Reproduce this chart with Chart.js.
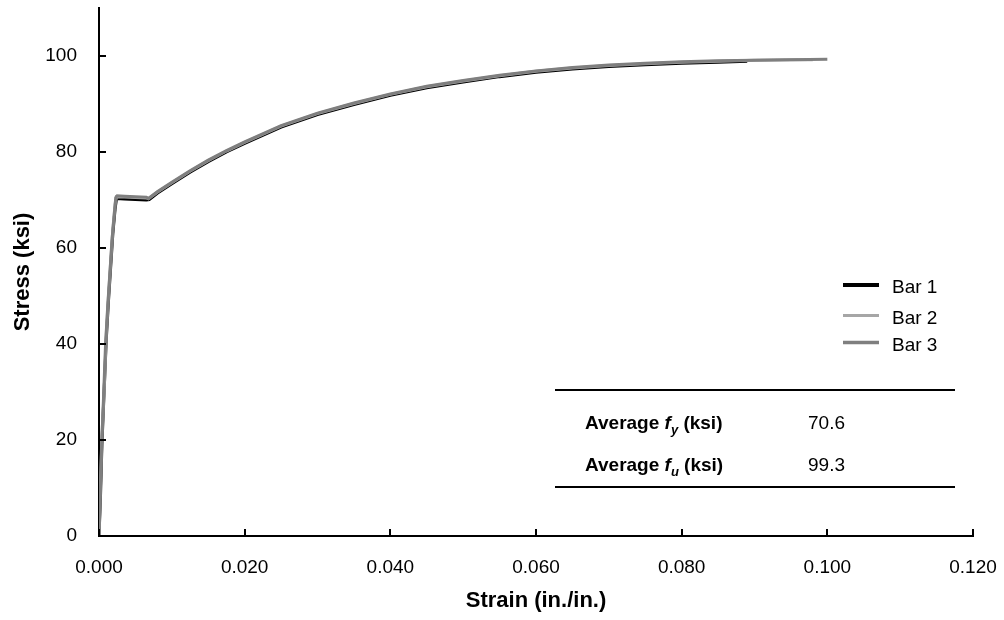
<!DOCTYPE html>
<html lang="en">
<head>
  <meta charset="UTF-8" />
  <title>Stress-strain curves</title>
  <script src="https://cdn.jsdelivr.net/npm/chart.js"></script>
  <style>
    body { margin: 0; padding: 0; background: #fff; }
    .wrap { width: 1004px; height: 620px; position: relative; }
  </style>
</head>
<body>
  <div class="wrap"><canvas id="stressChart" width="1004" height="620"></canvas></div>

  <script>
    // data (strain in./in., stress ksi)
    const bar1Strain = [0, 0.0002, 0.0004, 0.0007, 0.0010, 0.0013, 0.0016, 0.0019, 0.0022, 0.0024, 0.0035, 0.0050, 0.0065, 0.0069,
      0.008, 0.010, 0.0125, 0.015, 0.0175, 0.020, 0.025, 0.030, 0.035, 0.040, 0.045, 0.050, 0.055, 0.060, 0.065, 0.070, 0.075, 0.080, 0.085, 0.089];
    const bar1Stress = [0, 8, 19, 30, 41, 49, 56, 63, 68, 70.3, 70.2, 70.1, 70.0, 70.1,
      71.4, 73.4, 75.8, 78.0, 80.0, 81.8, 85.2, 87.8, 89.9, 91.8, 93.4, 94.6, 95.7, 96.6, 97.3, 97.8, 98.2, 98.5, 98.7, 98.9];

    const bar2Strain = [0, 0.0002, 0.0004, 0.0007, 0.0010, 0.0013, 0.0016, 0.0019, 0.0022, 0.0024, 0.0035, 0.0050, 0.0065, 0.0068,
      0.008, 0.010, 0.0125, 0.015, 0.0175, 0.020, 0.025, 0.030, 0.035, 0.040, 0.045, 0.050, 0.055, 0.060, 0.065, 0.070, 0.075, 0.080, 0.085, 0.090, 0.095, 0.098];
    const bar2Stress = [0, 11, 21, 30, 42, 50, 57, 64, 69, 70.7, 70.6, 70.5, 70.4, 70.3,
      71.6, 73.6, 76.0, 78.2, 80.2, 82.0, 85.4, 88.0, 90.1, 92.0, 93.6, 94.8, 95.9, 96.8, 97.5, 98.0, 98.4, 98.7, 98.9, 99.1, 99.2, 99.2];

    const bar3Strain = [0, 0.0002, 0.0004, 0.0006, 0.0009, 0.0012, 0.0015, 0.0018, 0.0021, 0.0023, 0.0025, 0.0035, 0.0050, 0.0065, 0.0068,
      0.008, 0.010, 0.0125, 0.015, 0.0175, 0.020, 0.025, 0.030, 0.035, 0.040, 0.045, 0.050, 0.055, 0.060, 0.065, 0.070, 0.075, 0.080, 0.085, 0.090, 0.095, 0.100];
    const bar3Stress = [0, 10, 20, 28, 40, 48, 55, 62, 67, 70.5, 70.9, 70.8, 70.7, 70.6, 70.3,
      71.7, 73.7, 76.1, 78.3, 80.3, 82.1, 85.5, 88.1, 90.2, 92.1, 93.7, 94.9, 96.0, 96.9, 97.6, 98.1, 98.5, 98.8, 99.0, 99.1, 99.2, 99.3];

    const seriesNames = ["Bar 1", "Bar 2", "Bar 3"];
    const seriesColors = ["#000000", "#a6a6a6", "#7f7f7f"];
    const xTickValues = [0, 0.02, 0.04, 0.06, 0.08, 0.10, 0.12];
    const yTickValues = [0, 20, 40, 60, 80, 100];
    const avgFy = "70.6";
    const avgFu = "99.3";

    const toPoints = (xs, ys) => xs.map((v, i) => ({ x: v, y: ys[i] }));

    const FONT = "'Liberation Sans', Arial, sans-serif";

    // inside tick marks, legend and the small summary table
    const overlay = {
      id: 'overlay',
      afterDraw(chart) {
        const ctx = chart.ctx;
        const xs = chart.scales.x, ys = chart.scales.y;
        ctx.save();
        ctx.strokeStyle = '#000';
        ctx.lineWidth = 2;
        ctx.beginPath();
        xTickValues.forEach(v => {
          const px = Math.round(xs.getPixelForValue(v));
          ctx.moveTo(px, ys.bottom);
          ctx.lineTo(px, ys.bottom - 7);
        });
        yTickValues.forEach(v => {
          const py = Math.round(ys.getPixelForValue(v));
          ctx.moveTo(xs.left, py);
          ctx.lineTo(xs.left + 7, py);
        });
        ctx.stroke();

        // legend
        const legendRows = [285, 315.5, 342.5];
        const legendWidths = [4, 3, 3.5];
        ctx.font = "19px " + FONT;
        ctx.textBaseline = 'middle';
        ctx.fillStyle = '#000';
        seriesNames.forEach((name, i) => {
          ctx.strokeStyle = seriesColors[i];
          ctx.lineWidth = legendWidths[i];
          ctx.beginPath();
          ctx.moveTo(843, legendRows[i]);
          ctx.lineTo(879, legendRows[i]);
          ctx.stroke();
          ctx.fillText(name, 892, legendRows[i] + 3);
        });

        // table
        ctx.strokeStyle = '#000';
        ctx.lineWidth = 2;
        ctx.beginPath();
        ctx.moveTo(555, 390); ctx.lineTo(955, 390);
        ctx.moveTo(555, 487); ctx.lineTo(955, 487);
        ctx.stroke();

        ctx.textBaseline = 'alphabetic';
        const drawLabel = (sub, baseY) => {
          let x = 585;
          ctx.font = "bold 19px " + FONT;
          ctx.fillText("Average ", x, baseY);
          x += ctx.measureText("Average ").width;
          ctx.font = "italic bold 19px " + FONT;
          ctx.fillText("f", x, baseY);
          x += ctx.measureText("f").width;
          ctx.font = "italic bold 13px " + FONT;
          ctx.fillText(sub, x, baseY + 5);
          x += ctx.measureText(sub).width;
          ctx.font = "bold 19px " + FONT;
          ctx.fillText(" (ksi)", x, baseY);
        };
        drawLabel("y", 429);
        drawLabel("u", 471);
        ctx.font = "19px " + FONT;
        ctx.fillText(avgFy, 808, 429);
        ctx.fillText(avgFu, 808, 471);
        ctx.restore();
      }
    };

    const ctx = document.getElementById('stressChart').getContext('2d');
    new Chart(ctx, {
      type: 'line',
      data: {
        datasets: [
          { label: seriesNames[0], data: toPoints(bar1Strain, bar1Stress), borderColor: seriesColors[0], borderWidth: 3, order: 3 },
          { label: seriesNames[1], data: toPoints(bar2Strain, bar2Stress), borderColor: seriesColors[1], borderWidth: 3, order: 2 },
          { label: seriesNames[2], data: toPoints(bar3Strain, bar3Stress), borderColor: seriesColors[2], borderWidth: 3, order: 1 }
        ]
      },
      options: {
        responsive: false,
        animation: false,
        elements: { point: { radius: 0 }, line: { tension: 0 } },
        layout: { padding: { top: 8, right: 31, left: 0, bottom: 0 } },
        plugins: { legend: { display: false }, tooltip: { enabled: false } },
        scales: {
          x: {
            type: 'linear',
            min: 0, max: 0.12,
            afterFit: s => { s.height = 84; s.paddingLeft = 0; s.paddingRight = 0; },
            afterBuildTicks: s => { s.ticks = xTickValues.map(v => ({ value: v })); },
            grid: { display: false },
            border: { display: true, color: '#000', width: 2 },
            ticks: {
              color: '#000', padding: 12, maxRotation: 0,
              font: { family: FONT, size: 19 },
              callback: v => v.toFixed(3)
            },
            title: {
              display: true, text: 'Strain (in./in.)', color: '#000',
              font: { family: FONT, size: 22, weight: 'bold' },
              padding: { top: 0, bottom: 6 }
            }
          },
          y: {
            type: 'linear',
            min: 0, max: 110,
            afterFit: s => { s.width = 99; s.paddingTop = 0; s.paddingBottom = 0; },
            afterBuildTicks: s => { s.ticks = yTickValues.map(v => ({ value: v })); },
            grid: { display: false },
            border: { display: true, color: '#000', width: 2 },
            ticks: {
              color: '#000', padding: 14,
              font: { family: FONT, size: 19 }
            },
            title: {
              display: true, text: 'Stress (ksi)', color: '#000',
              font: { family: FONT, size: 22, weight: 'bold' },
              padding: { top: 10, bottom: 0 }
            }
          }
        }
      },
      plugins: [overlay]
    });
  </script>
</body>
</html>
